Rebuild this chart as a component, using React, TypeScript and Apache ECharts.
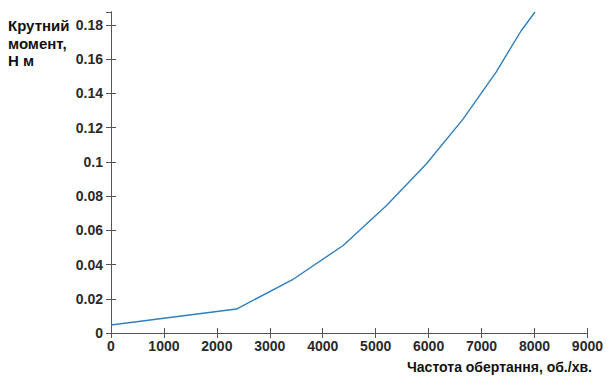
import React, { useEffect, useRef } from "react";
import * as echarts from "echarts";

const speed = [0, 2370, 3420, 4380, 5205, 5955, 6650, 7275, 7745, 8010];
const torque = [0.0047, 0.014, 0.031, 0.051, 0.0745, 0.0988, 0.125, 0.1525, 0.1765, 0.1876];
const yTitle = "Крутний\nмомент,\nН м";
const xTitle = "Частота обертання, об./хв.";

export default function App() {
  const ref = useRef<HTMLDivElement>(null);
  useEffect(() => {
    const chart = echarts.init(ref.current!, null, { renderer: "svg" });
    const axisLine = { show: true, lineStyle: { color: "#555", width: 1 } };
    const labelStyle = { color: "#2a2a2a", fontFamily: "Liberation Sans", fontWeight: "bold" as const, fontSize: 14 };
    const yFmt = (v: number) => {
      const r = Math.round(v / 0.02);
      if (Math.abs(v - r * 0.02) > 1e-6) return "";
      return r === 0 ? "0" : (r * 0.02).toFixed(2).replace(/0$/, "");
    };
    const xFmt = (v: number) => String(Math.round(v));
    chart.setOption({
      animation: false,
      backgroundColor: "#fff",
      grid: { left: 111, right: 16, top: 12, bottom: 45, containLabel: false },
      xAxis: [
        {
          type: "value", min: 0, max: 9000, interval: 1000, position: "bottom",
          axisLine, axisTick: { show: true, inside: true, length: 5, lineStyle: { color: "#555" } },
          splitLine: { show: false },
          axisLabel: { ...labelStyle, margin: 6, formatter: xFmt },
        },
        {
          type: "value", min: 0, max: 9000, interval: 1000, position: "top",
          axisLine, axisTick: { show: true, inside: true, length: 5, lineStyle: { color: "#555" } },
          splitLine: { show: false }, axisLabel: { show: false },
        },
      ],
      yAxis: [
        {
          type: "value", min: 0, max: 0.1876, interval: 0.02, position: "left",
          axisLine, axisTick: { show: true, inside: true, length: 5, lineStyle: { color: "#555" } },
          splitLine: { show: false },
          axisLabel: { ...labelStyle, margin: 8, formatter: yFmt, showMaxLabel: false },
        },
        {
          type: "value", min: 0, max: 0.1876, interval: 0.02, position: "right",
          axisLine, axisTick: { show: true, inside: true, length: 5, lineStyle: { color: "#555" } },
          splitLine: { show: false }, axisLabel: { show: false },
        },
      ],
      series: [
        {
          type: "line",
          data: speed.map((s, i) => [s, torque[i]]),
          showSymbol: false,
          lineStyle: { color: "#2f7fbf", width: 1.4 },
          clip: true,
        },
      ],
      graphic: [
        {
          type: "text", left: 8, top: 17,
          style: { text: yTitle, fill: "#111", font: "bold 15px 'Liberation Sans'", lineHeight: 17.5 },
        },
        {
          type: "text", left: 407, top: 360,
          style: { text: xTitle, fill: "#111", font: "bold 14px 'Liberation Sans'" },
        },
      ],
    });
    return () => chart.dispose();
  }, []);
  return <div ref={ref} style={{ width: 606, height: 378, position: "absolute", left: 0, top: 0 }} />;
}
